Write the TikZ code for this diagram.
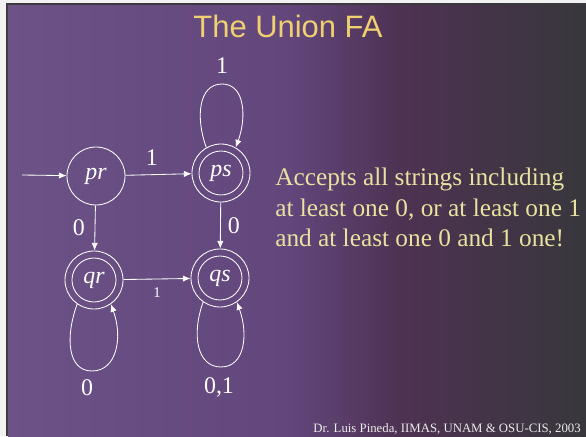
\documentclass[tikz,border=0pt]{standalone}
\usepackage{fontspec}
\setmainfont{Liberation Serif}
\newfontfamily\titlefont{Liberation Sans}
\usetikzlibrary{arrows.meta}
\definecolor{pagegray}{RGB}{242,242,242}
\definecolor{edgegray}{RGB}{58,58,62}
\definecolor{bgone}{RGB}{108,82,134}
\definecolor{bgtwo}{RGB}{98,70,124}
\definecolor{bgthree}{RGB}{78,50,82}
\definecolor{bgfour}{RGB}{56,55,60}
\definecolor{titleyellow}{RGB}{240,208,112}
\definecolor{textyellow}{RGB}{232,226,160}
\definecolor{footwhite}{RGB}{235,235,235}

\begin{document}
\begin{tikzpicture}[
        fastate/.style={shape=circle, draw=white, line width=0.6pt, minimum size=1.45cm, inner sep=0pt, text=white, font=\fontsize{17}{20}\selectfont\itshape},
        accstate/.style={fastate, path picture={\draw[white, line width=0.6pt] (path picture bounding box.center) circle (0.55cm);}},
        trans/.style={draw=white, line width=0.6pt, -{Latex[length=5.5pt, width=4.5pt]}},
        lbl/.style={text=white, font=\fontsize{17}{20}\selectfont, inner sep=1pt}
    ]
        \useasboundingbox (0, 0) rectangle (14.65, 10.9);
        % Slide background:
        \fill[pagegray] (0, 0) rectangle (14.65, 10.9);
        \fill[edgegray] (0.15, 0) rectangle (14.65, 10.825);
        \shade[left color=bgone, right color=bgtwo] (0.2, 0) rectangle (7.25, 10.75);
        \shade[left color=bgtwo, right color=bgthree] (7.25, 0) rectangle (10, 10.75);
        \shade[left color=bgthree, right color=bgfour] (10, 0) rectangle (14.65, 10.75);
        \node[text=titleyellow, font=\titlefont\fontsize{22}{26}\selectfont] (title) at (7.2, 10.25){The Union FA};
        % States:
        \node[fastate] (pr) at (2.4, 6.5){pr};
        \node[accstate] (ps) at (5.525, 6.575){ps};
        \node[accstate] (qr) at (2.35, 3.9){qr};
        \node[accstate] (qs) at (5.5, 3.95){qs};
        \coordinate (start) at (0.55, 6.525);
        \coordinate (psloop) at (5.55, 8.8);
        \coordinate (qrloop) at (2.3, 1.625);
        \coordinate (qsloop) at (5.525, 1.725);
        % Transitions:
        \draw[trans] (start) -- (pr);
        \draw[trans] (pr) -- node[lbl, pos=0.4, above=5pt]{1} (ps);
        \draw[trans] (pr) -- node[lbl, left=6pt]{0} (qr);
        \draw[trans] (ps) -- node[lbl, right=4pt]{0} (qs);
        \draw[trans] (qr) -- node[lbl, below=5pt, font=\fontsize{10.5}{12}\selectfont]{1} (qs);
        \draw[trans] (ps.120) to[out=110, in=180, out looseness=1.25, in looseness=0.92] (psloop) to[out=0, in=70, out looseness=0.92, in looseness=1.25] (ps.60);
        \draw[trans] (qr.235) to[out=250, in=180, out looseness=1.3, in looseness=0.92] (qrloop) to[out=0, in=-70, out looseness=0.92, in looseness=1.3] (qr.305);
        \draw[trans] (qs.235) to[out=250, in=180, out looseness=1.3, in looseness=0.92] (qsloop) to[out=0, in=-70, out looseness=0.92, in looseness=1.3] (qs.305);
        \node[lbl] (psloopl) at (5.55, 9.25){1};
        \node[lbl] (qrloopl) at (2.175, 1.2){0};
        \node[lbl] (qsloopl) at (5.475, 1.225){0,1};
        % Texts:
        \node[anchor=north west, align=left, inner sep=0pt, text=textyellow, font=\fontsize{18}{21.7}\selectfont] (note) at (6.875, 6.7){Accepts all strings including\\at least one 0, or at least one 1\\and at least one 0 and 1 one!};
        \node[anchor=base east, inner sep=0pt, text=footwhite, font=\fontsize{9.1}{11}\selectfont] (footer) at (14.525, 0.1){Dr. Luis Pineda, IIMAS, UNAM \& OSU-CIS, 2003};
    \end{tikzpicture}
\end{document}
